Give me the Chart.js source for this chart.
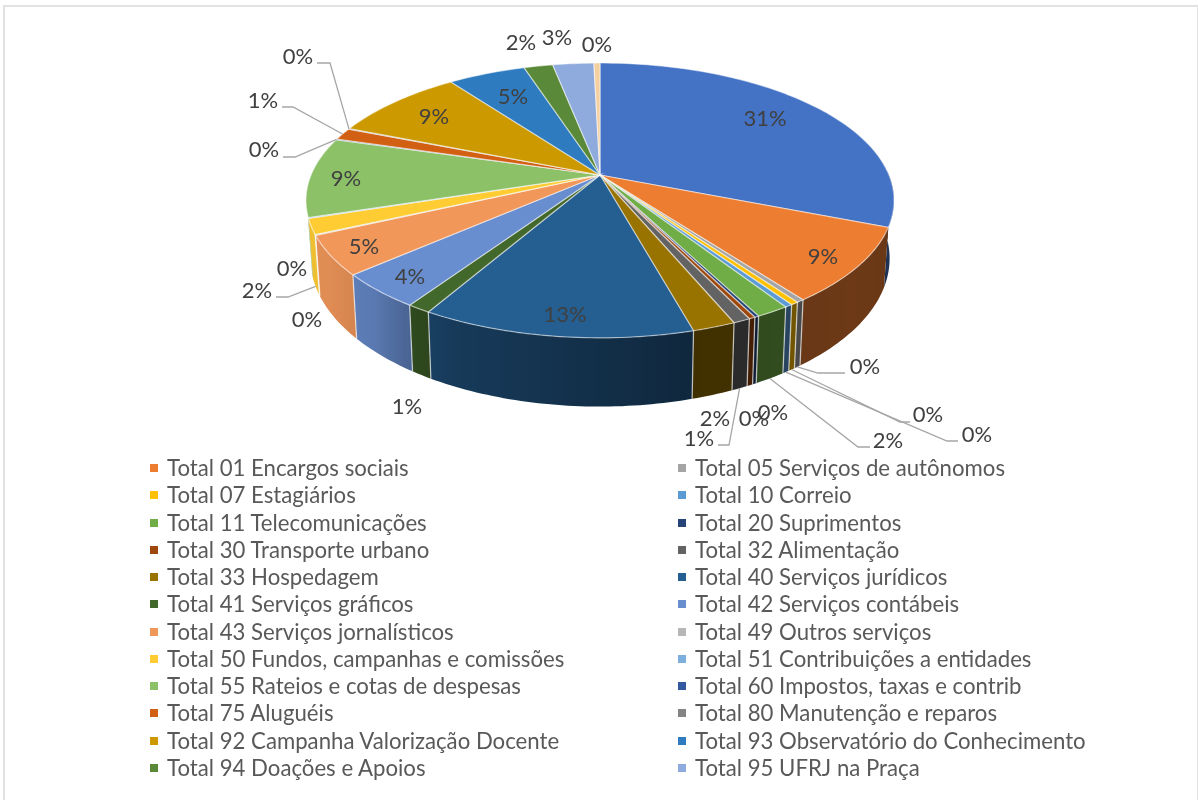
<!DOCTYPE html>
<html>
<head>
<meta charset="utf-8">
<title>Despesas</title>
<script src="https://cdn.jsdelivr.net/npm/chart.js@4/dist/chart.umd.min.js"></script>
<style>
    html, body { margin: 0; padding: 0; background: #fff; overflow: hidden; }
    #frame { position: absolute; left: 3px; top: 5px; width: 1195px; height: 795px; border: solid #e2e2e2; border-width: 2px 1px 0 2px; box-sizing: border-box; }
    #wrap { position: absolute; left: 0; top: 0; width: 1198px; height: 800px; }
    #legend { position: absolute; left: 0; top: 0; font-family: Lato, sans-serif; font-size: 22.2px; color: #595959; }
    #legend div { position: absolute; white-space: nowrap; line-height: 24px; }
    #legend i { position: absolute; left: -17px; top: 8px; width: 8px; height: 8px; }
</style>
</head>
<body>
<div id="frame"></div>
<div id="wrap"><canvas id="chart" width="1198" height="800"></canvas></div>
<div id="legend"></div>
<script>
    // first and last slice have no entry in the reference legend
    const categories = ['', 'Total 01 Encargos sociais', 'Total 05 Serviços de autônomos', 'Total 07 Estagiários', 'Total 10 Correio',
        'Total 11 Telecomunicações', 'Total 20 Suprimentos', 'Total 30 Transporte urbano', 'Total 32 Alimentação', 'Total 33 Hospedagem',
        'Total 40 Serviços jurídicos', 'Total 41 Serviços gráficos', 'Total 42 Serviços contábeis', 'Total 43 Serviços jornalísticos',
        'Total 49 Outros serviços', 'Total 50 Fundos, campanhas e comissões', 'Total 51 Contribuições a entidades',
        'Total 55 Rateios e cotas de despesas', 'Total 60 Impostos, taxas e contrib', 'Total 75 Aluguéis', 'Total 80 Manutenção e reparos',
        'Total 92 Campanha Valorização Docente', 'Total 93 Observatório do Conhecimento', 'Total 94 Doações e Apoios', 'Total 95 UFRJ na Praça', ''];
    const values = [31, 8.8, 0.36, 0.36, 0.36, 1.55, 0.2, 0.3, 0.8, 2, 12.6, 1.1, 4.1, 4.6, 0.1, 1.8, 0.1, 9.4, 0.1, 1.4, 0.1, 8.8, 5.1, 1.9, 2.7, 0.4];
    const colors = ['#4472C4', '#ED7D31', '#A5A5A5', '#FFC000', '#5B9BD5', '#70AD47', '#264478', '#9E480E', '#636363', '#997300',
        '#255E91', '#43682B', '#698ED0', '#F1975A', '#B7B7B7', '#FFCD33', '#7CAFDD', '#8CC168', '#335AA1', '#D26012',
        '#848484', '#CC9A00', '#2E7CBF', '#5A8A39', '#8FAADC', '#F4CFA0'];

    // where each percent label sits, same order as values
    const labelPos = [[765, 119], [823, 257], [865, 367], [928, 415], [977, 435], [888, 441], [773, 413], [754, 419], [699, 439], [715, 419],
        [565, 315], [407, 407], [410, 277], [364, 247], [307, 320], [257, 291], [292, 269], [346, 179], [264, 150], [263, 101],
        [298, 57], [434, 117], [513, 97], [521, 43], [557, 38], [597, 45]];
    // leader lines: slice index -> elbow points, the start is taken from the slice itself
    const leaders = {
        2: { rim: 'bottom', pts: [[818, 373], [845, 373]] },
        3: { rim: 'bottom', pts: [[900, 422], [910, 422]] },
        4: { rim: 'bottom', pts: [[947, 441], [958, 441]] },
        5: { rim: 'bottom', pts: [[858, 447], [870, 447]] },
        8: { rim: 'bottom', pts: [[729, 445], [718, 445]] },
        15: { rim: 'bottom', pts: [[288, 297], [276, 297]] },
        18: { rim: 'top', pts: [[295, 157], [283, 157]] },
        19: { rim: 'top', pts: [[293, 107], [282, 107]] },
        20: { rim: 'top', pts: [[330, 63], [317, 63]] }
    };

    // fake 3D: pie angles from Chart.js are projected on a tilted disc
    const stretchX = 1.72, stretchY = 0.79, persp = 0.185, depth = 56, shrink = 0.985;
    const wallFrom = 88, wallTo = 253;
    const shadeStops = [[60, .4], [130, .46], [165, .42], [190, .55], [205, .62], [215, .72], [222, .85], [237, .93], [300, .95]];

    function shadeAt(deg) {
        for (let i = 1; i < shadeStops.length; i++) {
            const a = shadeStops[i - 1], b = shadeStops[i];
            if (deg <= b[0]) return a[1] + (b[1] - a[1]) * Math.max(0, deg - a[0]) / (b[0] - a[0]);
        }
        return .95;
    }

    function darken(hex, f) {
        const n = parseInt(hex.slice(1), 16);
        return 'rgb(' + Math.round((n >> 16) * f) + ',' + Math.round(((n >> 8) & 255) * f) + ',' + Math.round((n & 255) * f) + ')';
    }

    // angle in chart.js radians (0 = 3 o'clock, clockwise)
    function project(arc, angle, drop) {
        const X = Math.cos(angle), Y = Math.sin(angle);
        const w = 1 - persp * Y;
        return {
            x: arc.x + arc.outerRadius * stretchX * X / w * (drop ? shrink : 1),
            y: arc.y + arc.outerRadius * stretchY * Y / w + (drop ? depth / w : 0)
        };
    }

    const toDeg = a => (a + Math.PI / 2) * 180 / Math.PI;
    const toRad = d => d * Math.PI / 180 - Math.PI / 2;

    function drawWall(ctx, arc, color) {
        const from = Math.max(toDeg(arc.startAngle), wallFrom), to = Math.min(toDeg(arc.endAngle), wallTo);
        if (to <= from) return;
        const steps = Math.max(1, Math.ceil(to - from));
        const top = [], bottom = [];
        for (let s = 0; s <= steps; s++) {
            const d = from + (to - from) * s / steps;
            top.push(project(arc, toRad(d)));
            bottom.unshift(project(arc, toRad(d), true));
        }
        const x0 = top[0].x, x1 = top[steps].x;
        const grad = ctx.createLinearGradient(x0, 0, x1 === x0 ? x0 + 1 : x1, 0);
        const span = Math.max(x0 - x1, 0.01);
        top.forEach((q, s) => {
            const d = from + (to - from) * s / steps;
            grad.addColorStop(Math.min(1, Math.max(0, (x0 - q.x) / span)), darken(color, shadeAt(d)));
        });
        ctx.beginPath();
        top.concat(bottom).forEach((q, n) => n ? ctx.lineTo(q.x, q.y) : ctx.moveTo(q.x, q.y));
        ctx.closePath();
        ctx.fillStyle = grad;
        ctx.fill();
    }

    const pie3d = {
        id: 'pie3d',
        beforeDatasetsDraw(chart) {
            const ctx = chart.ctx;
            const arcs = chart.getDatasetMeta(0).data;
            ctx.save();
            // side wall, only the front part can be seen
            arcs.forEach((arc, i) => drawWall(ctx, arc, colors[i]));
            // light seams between the slices on the wall
            ctx.strokeStyle = 'rgba(255,255,255,.6)';
            ctx.lineWidth = 1.3;
            arcs.forEach(arc => {
                const d = toDeg(arc.endAngle);
                if (d < 115 || d > 250) return;
                const a = project(arc, arc.endAngle), b = project(arc, arc.endAngle, true);
                ctx.beginPath();
                ctx.moveTo(a.x, a.y);
                ctx.lineTo(b.x, b.y);
                ctx.stroke();
            });
            // top face
            arcs.forEach((arc, i) => {
                const from = toDeg(arc.startAngle), to = toDeg(arc.endAngle);
                ctx.beginPath();
                ctx.moveTo(arc.x, arc.y);
                for (let d = from; d < to; d += 1) {
                    const q = project(arc, toRad(d));
                    ctx.lineTo(q.x, q.y);
                }
                const end = project(arc, arc.endAngle);
                ctx.lineTo(end.x, end.y);
                ctx.closePath();
                ctx.fillStyle = colors[i];
                ctx.fill();
                ctx.strokeStyle = 'rgba(255,255,255,.5)';
                ctx.lineWidth = 1.2;
                ctx.stroke();
            });
            ctx.restore();
            return false; // the flat pie is not wanted
        },
        // afterDatasetsDraw does not fire once the datasets are cancelled
        afterDraw(chart) {
            const ctx = chart.ctx;
            const arcs = chart.getDatasetMeta(0).data;
            const total = values.reduce((a, b) => a + b, 0);
            ctx.save();
            ctx.strokeStyle = '#a6a6a6';
            ctx.lineWidth = 1.3;
            Object.keys(leaders).forEach(k => {
                const arc = arcs[k], l = leaders[k];
                const s = project(arc, (arc.startAngle + arc.endAngle) / 2, l.rim === 'bottom');
                ctx.beginPath();
                ctx.moveTo(s.x, s.y);
                l.pts.forEach(p => ctx.lineTo(p[0], p[1]));
                ctx.stroke();
            });
            ctx.font = '22px Lato, sans-serif';
            ctx.fillStyle = '#404040';
            ctx.textAlign = 'center';
            ctx.textBaseline = 'middle';
            values.forEach((v, i) => {
                ctx.fillText(Math.round(v / total * 100) + '%', labelPos[i][0], labelPos[i][1]);
            });
            ctx.restore();
        }
    };

    const chart = new Chart(document.getElementById('chart').getContext('2d'), {
        type: 'pie',
        data: {
            labels: categories,
            datasets: [{ data: values, backgroundColor: colors, borderWidth: 0 }]
        },
        options: {
            responsive: false,
            animation: false,
            layout: { padding: { top: 7, bottom: 457, left: 2, right: 0 } },
            plugins: { legend: { display: false }, tooltip: { enabled: false } }
        },
        plugins: [pie3d]
    });

    // two column legend, read back from the chart
    const legendBox = document.getElementById('legend');
    Chart.overrides.pie.plugins.legend.labels.generateLabels(chart)
        .filter(item => item.text !== '')
        .forEach((item, n) => {
            const row = document.createElement('div');
            row.style.left = (n % 2 ? 695 : 167) + 'px';
            row.style.top = (456 + Math.floor(n / 2) * 27.27) + 'px';
            row.textContent = item.text;
            const mark = document.createElement('i');
            mark.style.background = item.fillStyle;
            row.appendChild(mark);
            legendBox.appendChild(row);
        });
</script>
</body>
</html>
